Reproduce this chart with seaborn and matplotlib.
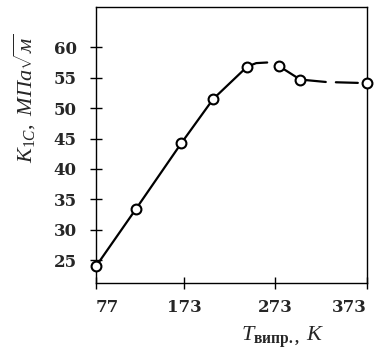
import numpy as np
import pandas as pd
import matplotlib
matplotlib.use('Agg')
import matplotlib.pyplot as plt
import seaborn as sns

# measured points
temp_K = [77, 121, 170, 205, 242, 277, 300, 373]
k1c = [24.0, 33.5, 44.2, 51.5, 56.8, 56.9, 54.7, 54.1]

# fitted curve, drawn in pieces (solid part, then broken part at high T)
fit_a_T = [77, 121, 170, 205, 242, 252, 264]
fit_a_K = [24.0, 33.5, 44.2, 51.5, 56.8, 57.4, 57.5]
fit_b_T = [277, 300, 328]
fit_b_K = [56.9, 54.7, 54.3]
fit_c_T = [339, 363]
fit_c_K = [54.25, 54.15]

x_ticks = [77, 173, 273, 373]
y_ticks = [25, 30, 35, 40, 45, 50, 55, 60]

sns.set_style('ticks')
plt.rcParams['font.family'] = ['Liberation Serif', 'DejaVu Serif']
plt.rcParams['mathtext.fontset'] = 'custom'
plt.rcParams['mathtext.rm'] = 'Liberation Serif'
plt.rcParams['mathtext.it'] = 'Liberation Serif:italic'
plt.rcParams['mathtext.bf'] = 'Liberation Serif:bold'

fig = plt.figure(figsize=(3.76, 3.57), dpi=100)
ax = fig.add_axes([0.2553, 0.208, 0.7207, 0.772])

for xs, ys in [(fit_a_T, fit_a_K), (fit_b_T, fit_b_K), (fit_c_T, fit_c_K)]:
    seg = pd.DataFrame({'T': xs, 'K': ys})
    sns.lineplot(data=seg, x='T', y='K', ax=ax, color='black', lw=1.6,
                 sort=False, estimator=None)

pts = pd.DataFrame({'T': temp_K, 'K': k1c})
sns.scatterplot(data=pts, x='T', y='K', ax=ax, s=50, color='white',
                edgecolor='black', linewidth=1.5, zorder=5, clip_on=False)

ax.set_xlim(77, 373)
ax.set_ylim(21.3, 66.6)
ax.set_xticks(x_ticks)
ax.set_yticks(y_ticks)
tick_font = dict(family='DejaVu Serif', fontsize=12, fontweight='bold')
ax.set_xticklabels([str(t) for t in x_ticks], **tick_font)
ax.set_yticklabels([str(t) for t in y_ticks], **tick_font)
xl = ax.get_xticklabels()
xl[0].set_ha('left')
xl[-1].set_ha('right')
ax.tick_params(axis='both', direction='inout', length=8, width=1, color='black')
ax.tick_params(axis='y', pad=10)
ax.tick_params(axis='x', pad=8)

for sp in ax.spines.values():
    sp.set_visible(True)
    sp.set_color('black')
    sp.set_linewidth(1.0)

ax.set_xlabel(r'$T_{\mathbf{випр.,}}\ K$', fontsize=16)
ax.xaxis.set_label_coords(0.69, -0.15)
ax.set_ylabel(r'$K_{1C},\ \mathit{МПа}\sqrt{\mathit{м}}$', fontsize=16)
ax.yaxis.set_label_coords(-0.215, 0.67)

fig.savefig('out.png', dpi=100)
